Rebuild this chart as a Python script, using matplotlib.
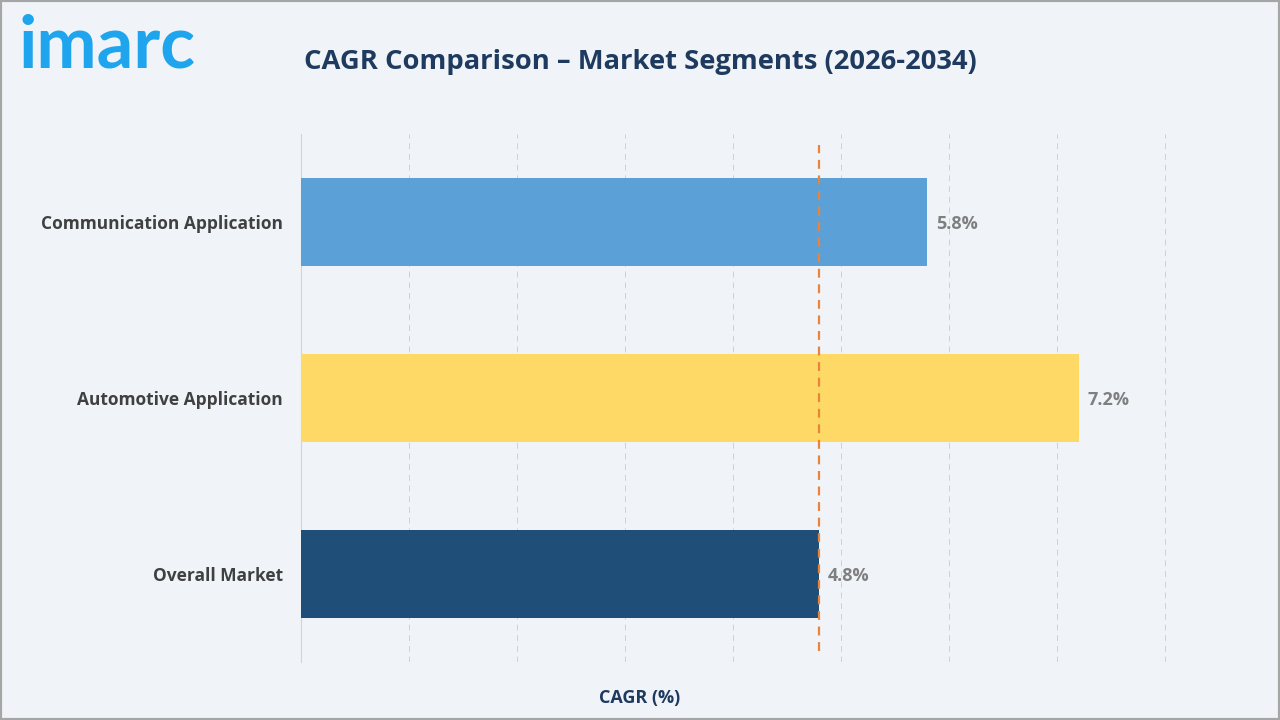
"""
CAGR comparison of market segments, horizontal bars
"""

import matplotlib.pyplot as plt
from matplotlib.patches import Rectangle

# ---------- Data ----------
segments = ["Communication Application", "Automotive Application", "Overall Market"]
cagr = [5.8, 7.2, 4.8]
bar_colors = ["#5BA0D6", "#FFD966", "#1F4E79"]
overall_cagr = 4.8
x_ticks = [1, 2, 3, 4, 5, 6, 7, 8]

bg = "#F0F4F9"
navy = "#1F3A5F"

# ---------- Plot ----------
fig = plt.figure(figsize=(12.8, 7.2), dpi=100, facecolor=bg)
# 1 % = 108 px, x axis runs a touch past 8 so the last grid line shows
ax = fig.add_axes([301 / 1280, 1 - 662 / 720, 870 / 1280, 528 / 720])
ax.set_facecolor(bg)

y = range(len(segments))
ax.barh(y, cagr, height=0.5, color=bar_colors, zorder=3)

# value labels
for i, v in enumerate(cagr):
    ax.text(v + 0.08, i + 0.01, f"{v}%", va="center", ha="left", family="Open Sans",
            fontsize=13, fontweight="bold", color="#7F7F7F", zorder=4)

# reference line for the overall market
ax.axvline(overall_cagr, ymin=0.02, ymax=0.98, color="#E8843C",
           linestyle=(0, (4, 3)), linewidth=1.6, zorder=5)

ax.set_xlim(0, 8 * 870 / 864)
ax.set_ylim(2.5, -0.5)
ax.set_xticks(x_ticks)
ax.set_xticklabels([])
ax.tick_params(axis="x", length=0)
ax.grid(axis="x", color="#CDD1D6", linestyle=(0, (6, 5)), linewidth=0.7, zorder=0)

ax.set_yticks(list(y))
ax.set_yticklabels(segments, fontsize=12.5, fontweight="bold", color="#404040",
                   family="Open Sans")
ax.tick_params(axis="y", length=0, pad=13)

for s in ["top", "right", "bottom"]:
    ax.spines[s].set_visible(False)
ax.spines["left"].set_color("#D0D4DA")
ax.spines["left"].set_linewidth(0.8)

# axis title
fig.text(640 / 1280, 1 - 698 / 720, "CAGR (%)", ha="center", va="center",
         fontsize=13, fontweight="bold", color=navy, family="Open Sans")

# chart title
fig.text(640 / 1280, 1 - 62 / 720, "CAGR Comparison \u2013 Market Segments (2026-2034)",
         ha="center", va="center", fontsize=19.7, fontweight="bold", color=navy,
         family="Open Sans")

# logo
fig.text(18 / 1280, 1 - 47 / 720, "imarc", ha="left", va="center",
         fontsize=52, fontweight="bold", color="#1EA5EE", family="Lato")

# frame around figure
fig.patches.append(Rectangle((0, 0), 1, 1, transform=fig.transFigure,
                             fill=False, edgecolor="#A6A6A6", linewidth=3))

fig.savefig("out.png", dpi=100, facecolor=bg)
